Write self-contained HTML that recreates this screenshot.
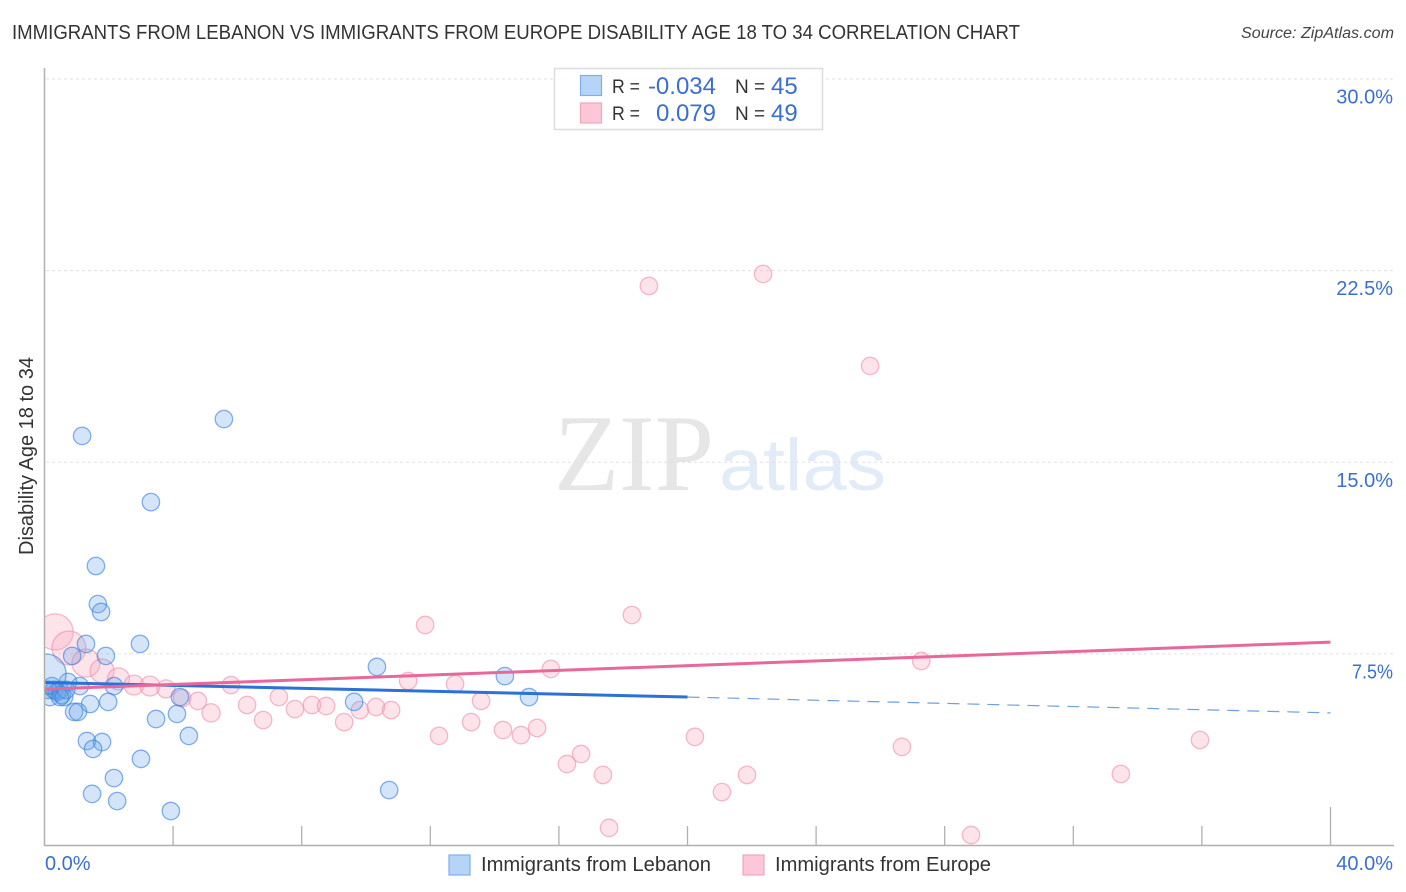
<!DOCTYPE html>
<html lang="en">
<head>
<meta charset="utf-8">
<title>Immigrants from Lebanon vs Immigrants from Europe Disability Age 18 to 34 Correlation Chart</title>
<style>
html,body{margin:0;padding:0;background:#fff;width:1406px;height:892px;overflow:hidden}
svg{display:block;font-family:"Liberation Sans",sans-serif}
</style>
</head>
<body>
<svg id="chart" xmlns="http://www.w3.org/2000/svg" width="1406" height="892" viewBox="0 0 1406 892">
  <text x="12" y="39" font-size="20" fill="#333" textLength="1008" lengthAdjust="spacingAndGlyphs">IMMIGRANTS FROM LEBANON VS IMMIGRANTS FROM EUROPE DISABILITY AGE 18 TO 34 CORRELATION CHART</text>
  <text x="1394" y="38" font-size="15.5" font-style="italic" fill="#444" text-anchor="end" textLength="153" lengthAdjust="spacingAndGlyphs">Source: ZipAtlas.com</text>
  <text x="554" y="490" font-family="'Liberation Serif',serif" font-size="109" fill="#e6e6e6" textLength="160" lengthAdjust="spacingAndGlyphs">ZIP</text>
  <text x="719" y="490" font-size="73" fill="#e2ebf8" textLength="167" lengthAdjust="spacingAndGlyphs">atlas</text>
  <g id="grid"></g>
  <g id="points"></g>
  <rect x="0" y="60" width="44.5" height="786" fill="#fff"/>
  <g id="trends"></g>
  <g id="axes"></g>
  <text transform="translate(33,456) rotate(-90)" font-size="20" fill="#333" text-anchor="middle" textLength="198" lengthAdjust="spacingAndGlyphs">Disability Age 18 to 34</text>

  <g>
    <rect x="554.5" y="68.5" width="268" height="61" fill="#fff" fill-opacity="0.9" stroke="#ddd" stroke-width="1.5"/>
    <rect x="580.5" y="75.5" width="21" height="20" fill="#b6d3f8" stroke="#7fb0ec" stroke-width="1.2"/>
    <rect x="580.5" y="103" width="21" height="20" fill="#fcc8d8" stroke="#f3a5bd" stroke-width="1.2"/>
    <text x="612" y="93" font-size="19" fill="#333" textLength="28" lengthAdjust="spacingAndGlyphs">R =</text>
    <text x="716" y="94" font-size="24" fill="#3a6fd2" text-anchor="end">-0.034</text>
    <text x="735" y="93" font-size="19" fill="#333">N =</text>
    <text x="771" y="94" font-size="24" fill="#3a6fd2">45</text>
    <text x="612" y="120" font-size="19" fill="#333" textLength="28" lengthAdjust="spacingAndGlyphs">R =</text>
    <text x="716" y="121" font-size="24" fill="#3a6fd2" text-anchor="end">0.079</text>
    <text x="735" y="120" font-size="19" fill="#333">N =</text>
    <text x="771" y="121" font-size="24" fill="#3a6fd2">49</text>
  </g>

  <g>
    <rect x="449" y="855" width="21" height="20" fill="#b6d3f8" stroke="#7fb0ec" stroke-width="1.2"/>
    <text x="481" y="871" font-size="20" fill="#333" textLength="230" lengthAdjust="spacingAndGlyphs">Immigrants from Lebanon</text>
    <rect x="743" y="855" width="21" height="20" fill="#fcc8d8" stroke="#f3a5bd" stroke-width="1.2"/>
    <text x="775" y="871" font-size="20" fill="#333" textLength="216" lengthAdjust="spacingAndGlyphs">Immigrants from Europe</text>
  </g>
</svg>
<script>
var yTicks = [7.5, 15, 22.5, 30];
var yTickLabels = ["7.5%", "15.0%", "22.5%", "30.0%"];
var xTicks = [0, 4, 8, 12, 16, 20, 24, 28, 32, 36, 40];
var xEndTicks = [0, 40];
var xEndLabels = ["0.0%", "40.0%"];

var lebanonX = [1.17,5.58,3.31,1.60,1.66,1.76,1.29,2.97,0.86,1.91,10.34,14.32,15.07,2.16,1.10,0.73,0.23,0.17,0.30,0.39,0.48,0.54,0.61,0.67,4.21,9.63,1.42,1.98,0.92,1.04,3.47,4.12,4.49,1.32,1.79,1.51,3.00,2.16,1.48,2.26,3.93,10.72,0.05,0.11,0.48];
var lebanonY = [16.03,16.69,13.44,10.94,9.45,9.14,7.89,7.89,7.42,7.42,6.99,6.63,5.81,6.24,6.24,6.40,6.24,5.81,6.09,6.01,6.09,5.89,5.81,6.09,5.81,5.62,5.54,5.62,5.23,5.23,4.95,5.15,4.29,4.09,4.05,3.78,3.39,2.64,2.02,1.74,1.35,2.17,6.71,6.09,5.81];
var lebanonWeight = [1,1,1,1,1,1,1,1,1,1,1,1,1,1,1,1,1,1,1,1,1,1,1,1,1,1,1,1,1,1,1,1,1,1,1,1,1,1,1,1,1,1,5.3,1,1];

var europeX = [0.33,0.76,1.29,1.79,2.30,2.78,3.28,3.78,4.28,4.77,5.18,5.80,6.30,7.29,6.80,7.79,8.32,8.76,9.32,9.81,10.31,10.78,11.31,12.77,13.58,13.27,12.27,14.26,14.82,15.32,15.75,16.25,16.69,17.37,17.56,20.23,21.07,21.85,26.67,27.27,28.82,33.48,35.94,18.80,22.35,25.68,11.84,18.27,19.77];
var europeY = [8.36,7.73,7.14,6.83,6.52,6.28,6.24,6.13,5.77,5.66,5.19,6.28,5.50,5.81,4.91,5.34,5.50,5.46,4.83,5.30,5.42,5.30,6.44,6.32,5.66,4.83,4.29,4.52,4.32,4.60,6.91,3.19,3.58,2.76,0.69,4.25,2.09,2.76,3.86,7.22,0.41,2.80,4.13,21.90,22.37,18.77,8.63,9.02,28.67];
var europeWeight = [4.3,3.8,2.6,1.9,1.6,1.3,1.3,1.07,1,1,1.1,1,1,1,1,1,1,1,1,1,1,1,1,1,1,1,1,1,1,1,1,1,1,1,1,1,1,1,1,1,1,1,1,1,1,1,1,1,1];

var lebanonTrendX = [0, 20, 40];
var lebanonTrendY = [6.38, 5.81, 5.19];
var europeTrendX = [0, 40];
var europeTrendY = [6.12, 7.96];

var NS = "http://www.w3.org/2000/svg";
function xScale(v) { return 44.5 + v * 32.15; }
function yScale(v) { return 845.5 - v * 25.55; }
function rScale(w) { return 8.7 * Math.sqrt(w); }
function make(tag, attrs, parent) {
  var el = document.createElementNS(NS, tag);
  for (var k in attrs) el.setAttribute(k, attrs[k]);
  parent.appendChild(el);
  return el;
}

var gridG = document.getElementById("grid");
var axesG = document.getElementById("axes");
var pointsG = document.getElementById("points");
var trendsG = document.getElementById("trends");

yTicks.forEach(function (t, i) {
  var line = make("line", {x1: 46, x2: 1394, y1: yScale(t), y2: yScale(t), stroke: "#e0e0e0", "stroke-width": 1, "stroke-dasharray": "3 3"}, gridG);
  
  
  var attrs = {x: 1393, y: yScale(t) + 24.5, "font-size": 20, fill: "#3a6fd2", "text-anchor": "end"};
  if (yTickLabels[i].length === 4) { attrs.textLength = 41; attrs.lengthAdjust = "spacingAndGlyphs"; }
  var label = make("text", attrs, axesG);
  label.textContent = yTickLabels[i];
  
  
});

var yAxis = make("line", {x1: 44.5, x2: 44.5, y1: 68, y2: 846, stroke: "#b0b0b0", "stroke-width": 1.5}, axesG);


var xAxis = make("line", {x1: 44, x2: 1394, y1: 845.5, y2: 845.5, stroke: "#b0b0b0", "stroke-width": 1.5}, axesG);



xTicks.forEach(function (t) {
  if (t === 0) return;
  var top = t === 40 ? 807 : 826;
  var tick = make("line", {x1: xScale(t), x2: xScale(t), y1: top, y2: 845, stroke: "#b0b0b0", "stroke-width": 1.3}, axesG);
  
  
});

xEndTicks.forEach(function (t, i) {
  var label = make("text", {x: t === 0 ? 45 : 1393, y: 870, "font-size": 20, fill: "#3a6fd2", "text-anchor": t === 0 ? "start" : "end"}, axesG);
  label.textContent = xEndLabels[i];
  
  
});

function drawPoints(xs, ys, ws, fill, stroke) {
  xs.forEach(function (x, i) {
    var c = make("circle", {cx: xScale(x), cy: yScale(ys[i]), r: rScale(ws[i]), fill: fill, stroke: stroke, "stroke-width": 1.3}, pointsG);
    
    
  });
}
drawPoints(europeX, europeY, europeWeight, "rgba(248,165,190,0.30)", "rgba(238,140,170,0.60)");
drawPoints(lebanonX, lebanonY, lebanonWeight, "rgba(100,160,232,0.28)", "rgba(50,125,220,0.60)");

var blueSolid = make("line", {x1: xScale(lebanonTrendX[0]) + 1, y1: yScale(lebanonTrendY[0]), x2: xScale(lebanonTrendX[1]), y2: yScale(lebanonTrendY[1]), stroke: "#2a72d8", "stroke-width": 3}, trendsG);


var blueDash = make("line", {x1: xScale(lebanonTrendX[1]), y1: yScale(lebanonTrendY[1]), x2: xScale(lebanonTrendX[2]), y2: yScale(lebanonTrendY[2]), stroke: "#6f9fdc", "stroke-width": 1.2, "stroke-dasharray": "12 8"}, trendsG);


var pinkLine = make("line", {x1: xScale(europeTrendX[0]) + 1, y1: yScale(europeTrendY[0]), x2: xScale(europeTrendX[1]), y2: yScale(europeTrendY[1]), stroke: "#e8689a", "stroke-width": 3}, trendsG);


</script>
</body>
</html>
